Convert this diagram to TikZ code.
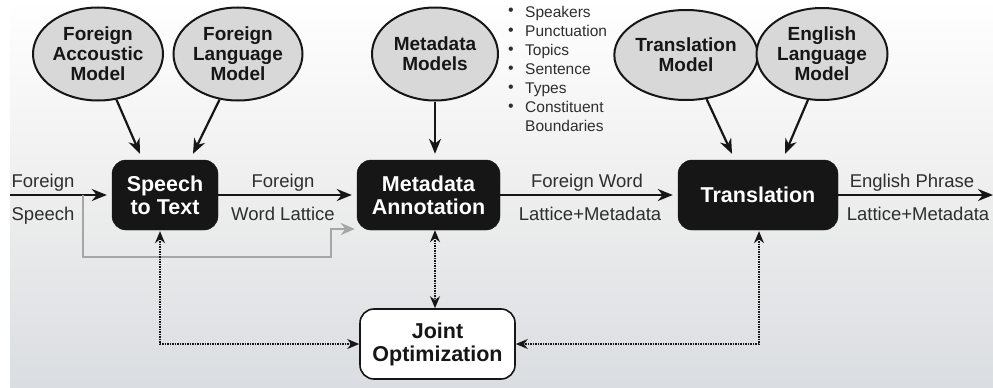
\documentclass[tikz,border=0pt]{standalone}
\usepackage{fontspec}
\setmainfont{Liberation Sans}
\usetikzlibrary{arrows.meta,shapes.geometric,calc}
\definecolor{ink}{HTML}{161616}
\definecolor{txt}{HTML}{2E2E2E}
\definecolor{ellfill}{HTML}{D8D8D8}
\definecolor{graypath}{HTML}{A6A6A6}
\definecolor{bgbot}{HTML}{DADDE1}
\begin{document}
\begin{tikzpicture}[x=1pt,y=-1pt,
  model/.style={ellipse, draw=ink, line width=2pt, fill=ellfill, inner sep=0pt,
    align=center, font=\fontsize{19}{20}\selectfont\bfseries, text=ink},
  proc/.style={rounded corners=14pt, fill=ink, draw=ink, text=white, inner sep=0pt,
    align=center, font=\fontsize{21.5}{23}\selectfont\bfseries, minimum height=70pt},
  joint/.style={rounded corners=14pt, fill=white, draw=ink, line width=1.6pt, text=ink, inner sep=0pt,
    align=center, font=\fontsize{21.5}{23}\selectfont\bfseries, minimum height=70pt, minimum width=155pt},
  lbl/.style={anchor=base, inner sep=0pt, text=txt, font=\fontsize{18.5}{20}\selectfont},
  bul/.style={anchor=base west, inner sep=0pt, text=txt, font=\fontsize{15.5}{17}\selectfont},
  arr/.style={draw=ink, line width=2.2pt, -{Stealth[length=15pt,width=12pt]}},
  grayarr/.style={draw=graypath, line width=2.2pt, -{Stealth[length=14pt,width=12pt]}},
  dotarr/.style={draw=ink, densely dotted, line width=1.5pt,
    {Stealth[length=12pt,width=10pt]}-{Stealth[length=12pt,width=10pt]}}
]
\useasboundingbox (0,0) rectangle (993,388);
\shade[top color=white, bottom color=bgbot, middle color={rgb,255:red,238;green,238;blue,238}] (10,0) rectangle (993,388);

% models
\node[model, minimum width=130pt, minimum height=93pt] (e1) at (98,54) {Foreign\\Accoustic\\Model};
\node[model, minimum width=129pt, minimum height=93pt] (e2) at (238,54) {Foreign\\Language\\Model};
\node[model, minimum width=126pt, minimum height=93pt] (e3) at (435,54) {Metadata\\Models};
\node[model, minimum width=125pt, minimum height=90pt] (e4) at (686,55) {Translation\\Model};
\node[model, minimum width=131pt, minimum height=92pt] (e5) at (822,54) {English\\Language\\Model};

% processes
\node[proc, minimum width=106pt] (b1) at (165,195) {Speech\\to Text};
\node[proc, minimum width=143pt] (b2) at (428.5,195) {Metadata\\Annotation};
\node[proc, minimum width=160pt] (b3) at (758,195) {Translation};
\node[joint] (j) at (437.5,344) {Joint\\Optimization};

% bullets
\foreach \t [count=\i] in {Speakers,Punctuation,Topics,Sentence,Types,Constituent} {
  \node[bul] (item\i) at (525,{17+19*(\i-1)}) {\t};
  \node[bul, font=\fontsize{16}{16}\selectfont] (dot\i) at (508,{16+19*(\i-1)}) {\textbullet};
}
\node[bul] (item7) at (525,131) {Boundaries};

% main flow
\coordinate (in) at (10,195);
\coordinate (out) at (993,195);
\coordinate (split) at (83,195);
\draw[arr, shorten >=5pt] (in) -- (b1);
\draw[arr, shorten >=5pt] (b1) -- (b2);
\draw[arr, shorten >=5pt] (b2) -- (b3);
\draw[arr] (b3) -- (out);

% gray bypass
\coordinate (g1) at (83,257);
\coordinate (g2) at (331,257);
\coordinate (g3) at (331,229);
\draw[grayarr, shorten >=2pt] (split) -- (g1) -- (g2) -- (g3) -- (g3 -| b2.west);

% model arrows
\draw[arr] (e1.-68) -- ([xshift=-25pt,yshift=6pt]b1.north);
\draw[arr] (e2.-112) -- ([xshift=28pt,yshift=6pt]b1.north);
\draw[arr] (e3.south) -- ([yshift=6pt]b2.north -| e3.south);
\draw[arr] (e4.-65) -- ([xshift=-26pt,yshift=6pt]b3.north);
\draw[arr] (e5.-107) -- ([xshift=27pt,yshift=6pt]b3.north);

% joint optimization links
\draw[dotarr, shorten <=1pt] ([xshift=-5pt]b1.south) |- (j.west);
\draw[dotarr] (b2.south -| e3.south) -- (j.north -| e3.south);
\draw[dotarr, shorten <=1pt] ([xshift=1pt]b3.south) |- (j.east);

% labels
\node[lbl] (l1) at (43,187) {Foreign};
\node[lbl] (l2) at (43,220) {Speech};
\node[lbl] (l3) at (283,187) {Foreign};
\node[lbl] (l4) at (283,220) {Word Lattice};
\node[lbl] (l5) at (587,187) {Foreign Word};
\node[lbl] (l6) at (590,220) {Lattice+Metadata};
\node[lbl] (l7) at (912,187) {English Phrase};
\node[lbl] (l8) at (918,220) {Lattice+Metadata};
\end{tikzpicture}
\end{document}
